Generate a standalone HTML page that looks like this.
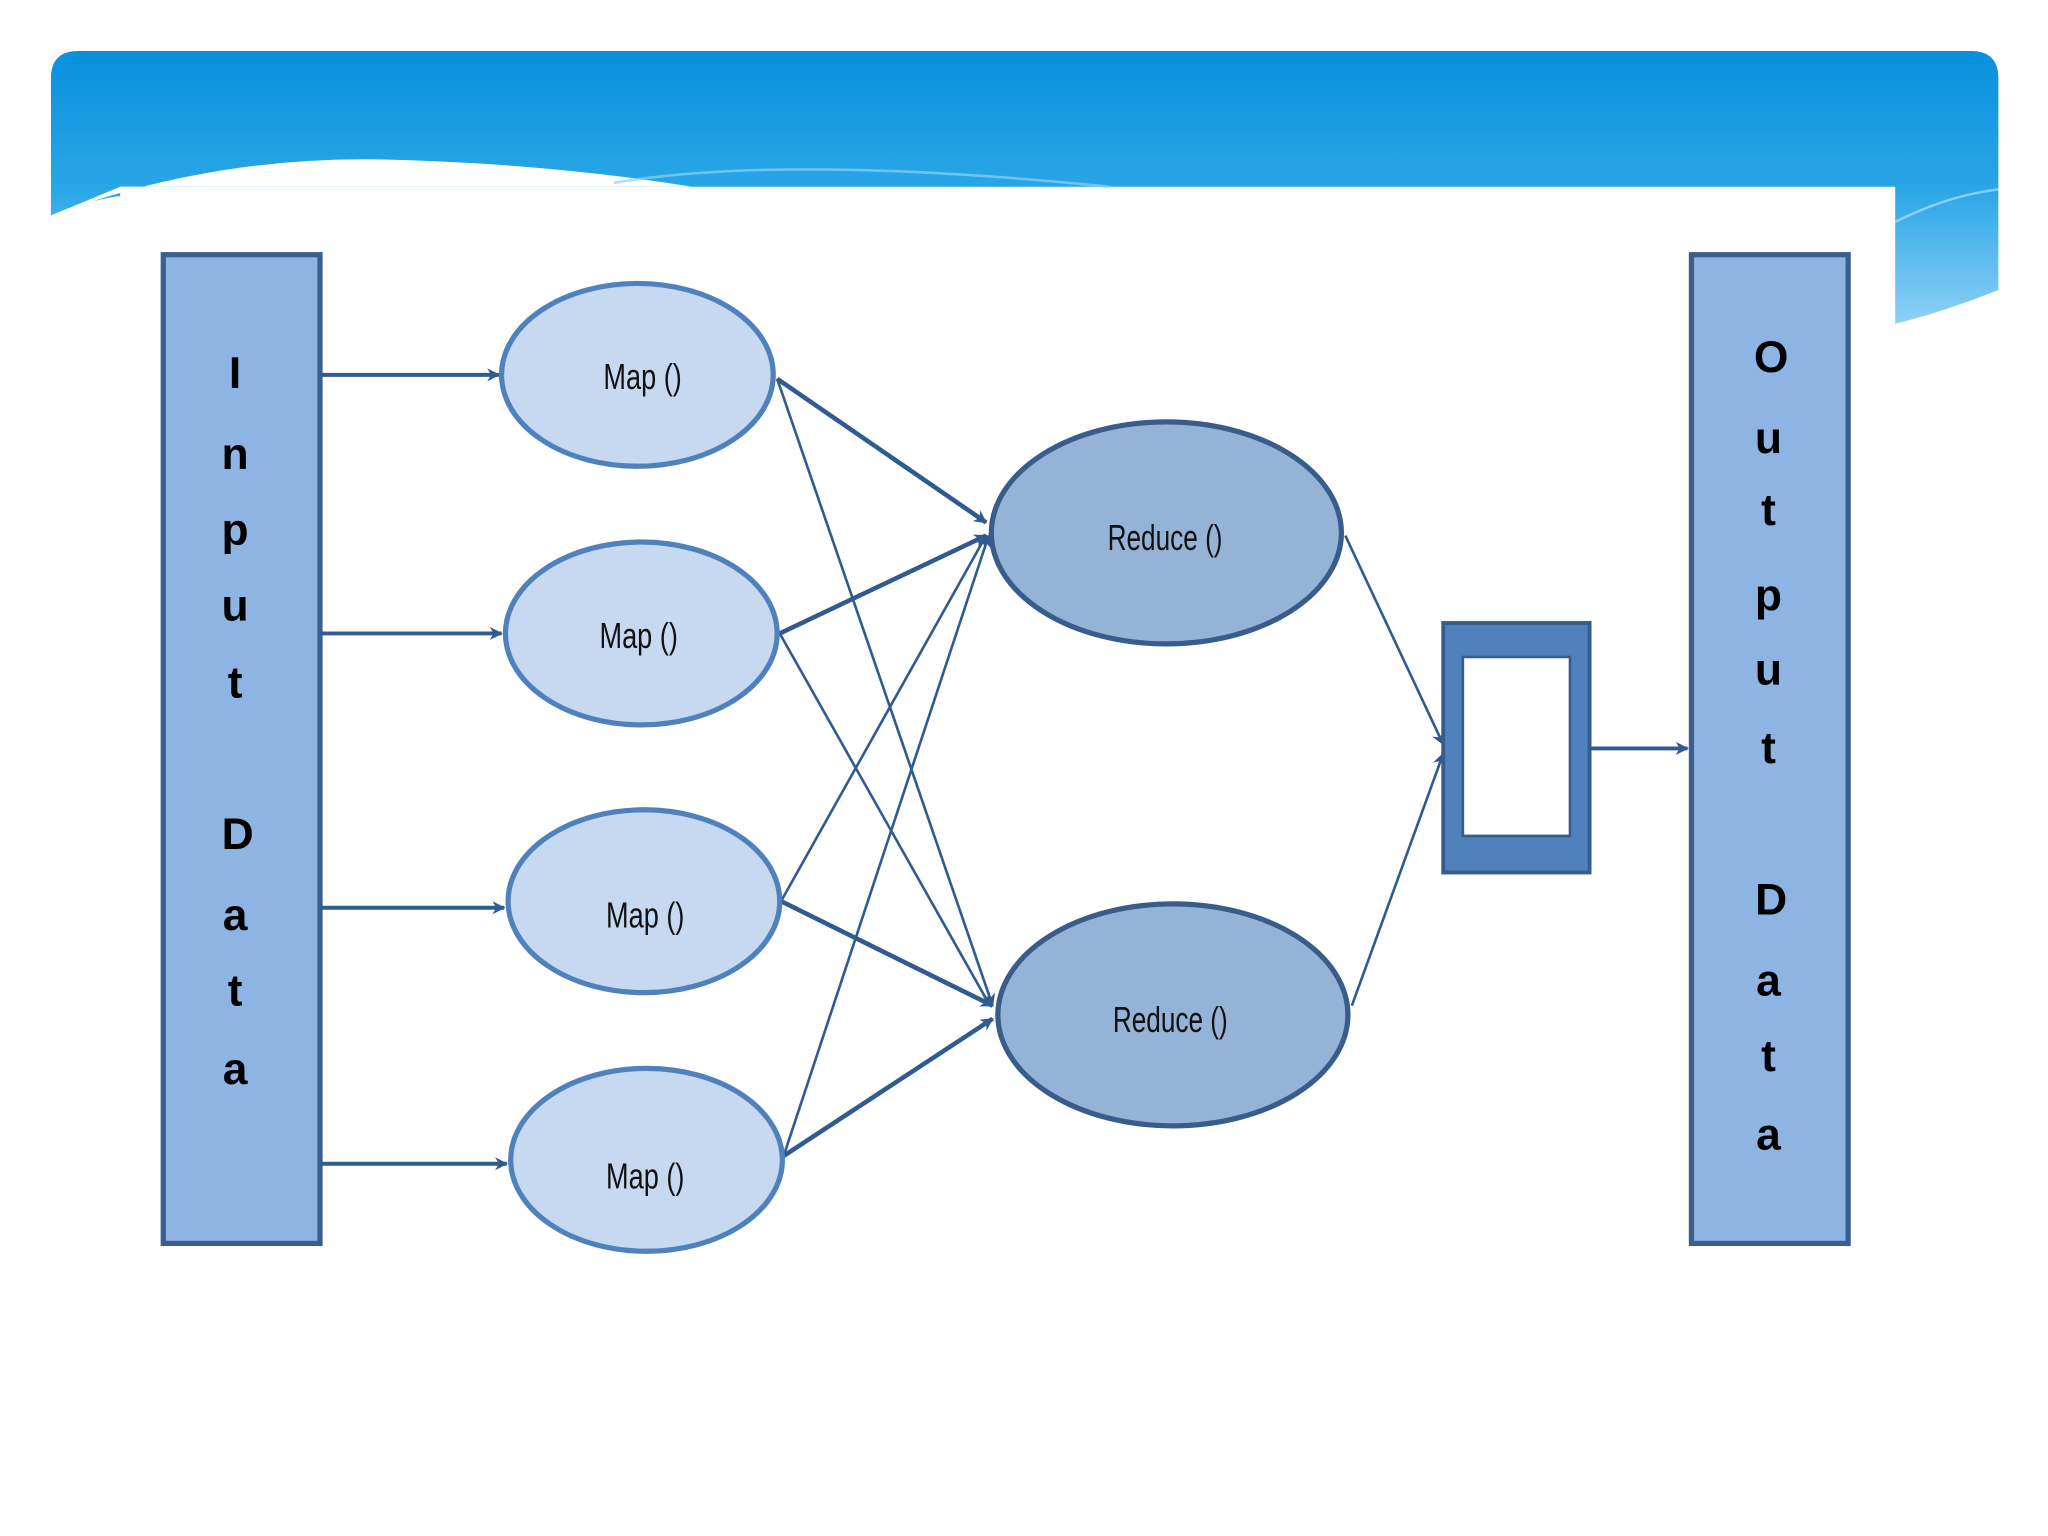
<!DOCTYPE html>
<html><head><meta charset="utf-8"><style>
html,body{margin:0;padding:0;background:#fff;}
svg{display:block;}
text{font-family:"Liberation Sans Narrow","Liberation Sans",sans-serif;}
</style></head><body>
<svg width="2048" height="1536" viewBox="0 0 1568 1176" preserveAspectRatio="none" xmlns="http://www.w3.org/2000/svg">
<defs>
<linearGradient id="hdr" x1="0" y1="0" x2="0" y2="1">
<stop offset="0" stop-color="#0890dd"/><stop offset="0.5" stop-color="#29a6e6"/><stop offset="1" stop-color="#8fd0f6"/>
</linearGradient>
<marker id="ah" markerWidth="10" markerHeight="10" refX="9" refY="5" orient="auto" markerUnits="userSpaceOnUse">
<path d="M0,0 L10,5 L0,10 L3,5 Z" fill="#2f5b8f"/>
</marker>
</defs>
<rect width="1568" height="1176" fill="#fff"/>
<path d="M39,60 Q39,39 60,39 L1509,39 Q1530,39 1530,60 L1530,222 Q1490,238 1451,248 L1451,143 L92,143 L92,150 Q60,155 39,165 Z" fill="url(#hdr)"/>
<path d="M39,165 Q160,120 290,122 Q420,125 530,143 L92,143 Z" fill="#fff"/>
<path d="M39,165 Q60,155 92,150 L92,143 L39,143 Z" fill="#fff" opacity="0"/>
<path d="M470,140 Q600,118 850,143" fill="none" stroke="#8fd0f4" stroke-width="2" opacity="0.7"/>
<path d="M1451,170 Q1490,150 1530,145" fill="none" stroke="#bfe6fb" stroke-width="2" opacity="0.6"/>
<!-- Input -->
<rect x="125" y="195" width="120" height="757" fill="#8eb4e3" stroke="#3a5f8f" stroke-width="4"/>
<g font-weight="bold" font-size="34" fill="#000" text-anchor="middle">
<text x="180" y="297">I</text><text x="180" y="359">n</text><text x="180" y="417">p</text><text x="180" y="475">u</text><text x="180" y="534">t</text>
<text x="182" y="650">D</text><text x="180" y="712">a</text><text x="180" y="770">t</text><text x="180" y="830">a</text>
<text x="1356" y="285">O</text><text x="1354" y="347">u</text><text x="1354" y="402">t</text><text x="1354" y="467">p</text><text x="1354" y="524">u</text><text x="1354" y="584">t</text>
<text x="1356" y="700">D</text><text x="1354" y="762">a</text><text x="1354" y="820">t</text><text x="1354" y="880">a</text>
</g>
<!-- Output -->
<rect x="1295" y="195" width="120" height="757" fill="#8eb4e3" stroke="#3a5f8f" stroke-width="4"/>
<g font-weight="bold" font-size="34" fill="#000" text-anchor="middle">
<text x="1356" y="285">O</text><text x="1354" y="347">u</text><text x="1354" y="402">t</text><text x="1354" y="467">p</text><text x="1354" y="524">u</text><text x="1354" y="584">t</text>
<text x="1356" y="700">D</text><text x="1354" y="762">a</text><text x="1354" y="820">t</text><text x="1354" y="880">a</text>
</g>
<!-- arrows input->map -->
<g stroke="#2f5b8f" stroke-width="3" marker-end="url(#ah)" fill="none">
<line x1="245" y1="287" x2="382" y2="287"/>
<line x1="245" y1="485" x2="384" y2="485"/>
<line x1="245" y1="695" x2="386" y2="695"/>
<line x1="245" y1="891" x2="388" y2="891"/>
<line x1="595" y1="290" x2="755" y2="400" stroke-width="3.5"/>
<line x1="597" y1="485" x2="755" y2="410" stroke-width="3.5"/>
<line x1="598" y1="690" x2="760" y2="770" stroke-width="3.5"/>
<line x1="600" y1="885" x2="760" y2="780" stroke-width="3.5"/>
<line x1="595" y1="290" x2="760" y2="770" stroke-width="2"/>
<line x1="597" y1="485" x2="758" y2="770" stroke-width="2"/>
<line x1="598" y1="690" x2="755" y2="410" stroke-width="2"/>
<line x1="600" y1="885" x2="757" y2="410" stroke-width="2"/>
<line x1="1030" y1="410" x2="1105" y2="570" stroke-width="2"/>
<line x1="1035" y1="770" x2="1105" y2="577" stroke-width="2"/>
<line x1="1217" y1="573" x2="1292" y2="573"/>
</g>
<!-- maps -->
<g fill="#c6d9f1" stroke="#4f81bd" stroke-width="4">
<ellipse cx="488" cy="287" rx="104" ry="70"/>
<ellipse cx="491" cy="485" rx="104" ry="70"/>
<ellipse cx="493" cy="690" rx="104" ry="70"/>
<ellipse cx="495" cy="888" rx="104" ry="70"/>
</g>
<g fill="#95b3d7" stroke="#385d8a" stroke-width="4">
<ellipse cx="893" cy="408" rx="134" ry="85"/>
<ellipse cx="898" cy="777" rx="134" ry="85"/>
</g>
<g font-size="28" fill="#111" text-anchor="middle" transform="scale(1,1)">
<text x="492" y="298" textLength="60" lengthAdjust="spacingAndGlyphs">Map ()</text>
<text x="489" y="496" textLength="60" lengthAdjust="spacingAndGlyphs">Map ()</text>
<text x="494" y="710" textLength="60" lengthAdjust="spacingAndGlyphs">Map ()</text>
<text x="494" y="910" textLength="60" lengthAdjust="spacingAndGlyphs">Map ()</text>
<text x="892" y="421" textLength="88" lengthAdjust="spacingAndGlyphs">Reduce ()</text>
<text x="896" y="790" textLength="88" lengthAdjust="spacingAndGlyphs">Reduce ()</text>
</g>
<rect x="1105" y="477" width="112" height="191" fill="#4f81bd" stroke="#385d8a" stroke-width="3"/>
<rect x="1120" y="503" width="82" height="137" fill="#fff" stroke="#385d8a" stroke-width="2"/>
</svg>
</body></html>
